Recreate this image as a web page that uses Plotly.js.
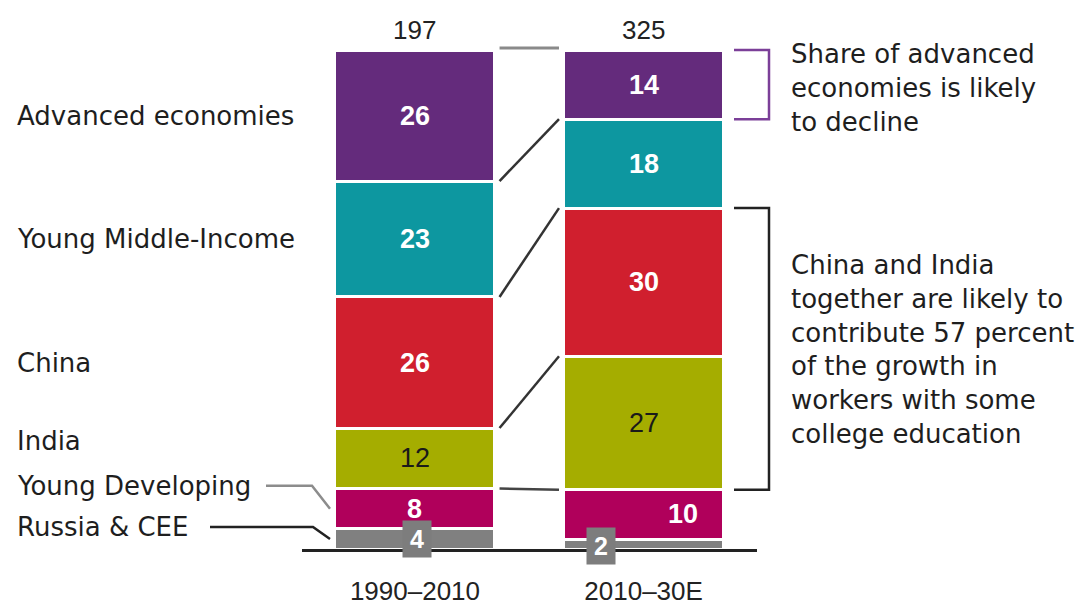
<!DOCTYPE html>
<html>
<head>
<meta charset="utf-8">
<script src="https://cdn.plot.ly/plotly-3.0.1.min.js"></script>
<style>html,body{margin:0;padding:0;background:#fff;}#chart{width:1082px;height:606px;}</style>
</head>
<body>
<div id="chart"></div>
<script>
// ---------- data ----------
const periods = ['1990–2010', '2010–30E'];
const totals = [197, 325];
const regions = ['Russia & CEE', 'Young Developing', 'India', 'China', 'Young Middle-Income', 'Advanced economies'];
const share1990 = [4, 8, 12, 26, 23, 26];
const share2030 = [2, 10, 27, 30, 18, 14];
const noteAdvanced = 'Share of advanced<br>economies is likely<br>to decline';
const noteChinaIndia = 'China and India<br>together are likely to<br>contribute 57 percent<br>of the growth in<br>workers with some<br>college education';

// ---------- styling ----------
const colors = ['#808080', '#B0005B', '#A5AD00', '#D01F2E', '#0D97A0', '#642B7C'];
const textFont = 'DejaVu Sans, Arial, sans-serif';
const numFont = 'Liberation Sans, Arial, sans-serif';
const W = 1082, H = 606;
const M = {l: 302, r: 325, t: 50, b: 57};
const plotW = W - M.l - M.r, plotH = H - M.t - M.b;
const xRange = [-0.494, 1.496];
const barW = 0.70;
const pxToData = 100 / plotH;
const pxX = px => (px - M.l) / plotW;   // page pixel -> paper x

const series = [share1990, share2030];
function bounds(arr) {
  const tot = arr.reduce((a, b) => a + b, 0);
  const out = [0]; let c = 0;
  arr.forEach(v => { c += v; out.push(c / tot * 100); });
  return out;
}
const B = series.map(bounds);

// ---------- traces ----------
const traces = regions.map((r, i) => ({
  type: 'bar', name: r, x: [0, 1], y: [share1990[i], share2030[i]],
  width: barW, marker: {color: colors[i], line: {color: '#ffffff', width: 3}},
  hoverinfo: 'skip', showlegend: false
}));

// ---------- annotations ----------
const ann = [];
// totals
totals.forEach((t, p) => ann.push({x: p, xref: 'x', y: (549 - 30) / plotH, yref: 'paper', yanchor: 'middle',
  text: String(t), showarrow: false, font: {family: numFont, size: 26, color: '#222'}}));
// value labels
const xShift = [[2, 0, 0, 0, 0, 0], [-43, 39, 0, 0, 0, 0]];
const yShift = [[0, 0, 0, 0, 0, 0], [-2, 0, 0, 0, 0, 0]];
series.forEach((arr, p) => arr.forEach((v, i) => {
  const mid = (B[p][i] + B[p][i + 1]) / 2;
  const dark = (i === 2);
  const a = {x: p, xref: 'x', y: mid, yref: 'y', text: String(v), showarrow: false,
    xshift: xShift[p][i], yshift: yShift[p][i],
    font: {family: numFont, size: 27, color: dark ? '#1a1a1a' : '#ffffff', weight: dark ? 'normal' : 'bold'}};
  if (i === 0) { a.bgcolor = '#7d7d7d'; a.width = 26; a.height = 34; a.font.size = 25; }
  ann.push(a);
}));
// left category labels
const labelOffsetPx = [12, 23, 17, 0, 0, 0];
regions.forEach((r, i) => {
  const mid = (B[0][i] + B[0][i + 1]) / 2 + labelOffsetPx[i] * pxToData;
  ann.push({x: pxX(15), xref: 'paper', xanchor: 'left', y: mid, yref: 'y', text: r,
    showarrow: false, font: {family: textFont, size: 26, color: '#1e1e1e'}});
});
// notes
ann.push({x: pxX(789), xref: 'paper', xanchor: 'left', y: (549 - 88) / plotH, yref: 'paper',
  yanchor: 'middle', align: 'left', text: noteAdvanced, showarrow: false,
  font: {family: textFont, size: 26, color: '#1e1e1e'}});
ann.push({x: pxX(789), xref: 'paper', xanchor: 'left', y: (549 - 350) / plotH, yref: 'paper',
  yanchor: 'middle', align: 'left', text: noteChinaIndia, showarrow: false,
  font: {family: textFont, size: 26, color: '#1e1e1e'}});

// ---------- shapes ----------
const shapes = [];
const gx0 = barW / 2 + 0.02, gx1 = 1 - gx0;
// top connector
shapes.push({type: 'line', xref: 'x', yref: 'paper', x0: gx0, x1: gx1, y0: 1.004, y1: 1.004,
  line: {color: '#8a8a8a', width: 3}});
// boundary connectors
[5, 4, 3, 2].forEach(k => {
  shapes.push({type: 'line', xref: 'x', yref: 'paper', x0: gx0, x1: gx1,
    y0: B[0][k] / 100, y1: B[1][k] / 100, line: {color: k === 2 ? '#444' : '#333', width: 2.5}});
});
// leader lines
const yLab = i => ((B[0][i] + B[0][i + 1]) / 2 + labelOffsetPx[i] * pxToData) / 100;
const yMid = i => ((B[0][i] + B[0][i + 1]) / 2) / 100;
shapes.push({type: 'path', xref: 'paper', yref: 'paper',
  path: `M ${pxX(266)} ${yLab(1)} L ${pxX(312)} ${yLab(1)} L ${pxX(330)} ${yMid(1)}`,
  line: {color: '#8c8c8c', width: 2.5}});
shapes.push({type: 'path', xref: 'paper', yref: 'paper',
  path: `M ${pxX(210)} ${yLab(0)} L ${pxX(313)} ${yLab(0)} L ${pxX(330)} ${yMid(0)}`,
  line: {color: '#222', width: 2.5}});
// brackets
function bracket(lo, hi, color) {
  return {type: 'path', xref: 'paper', yref: 'paper',
    path: `M ${pxX(734)} ${hi} L ${pxX(769)} ${hi} L ${pxX(769)} ${lo} L ${pxX(734)} ${lo}`,
    line: {color: color, width: 2.5}};
}
shapes.push(bracket(B[1][5] / 100, B[1][6] / 100, '#7B3F98'));
shapes.push(bracket(B[1][2] / 100, B[1][4] / 100, '#222'));

const layout = {
  width: W, height: H, margin: M, paper_bgcolor: '#fff', plot_bgcolor: '#fff',
  barmode: 'stack', barnorm: 'percent', bargap: 0,
  xaxis: {range: xRange, tickvals: [0, 1], ticktext: periods, showgrid: false, zeroline: false,
    showline: true, linecolor: '#222', linewidth: 3, ticks: '', ticklabelstandoff: 17,
    tickfont: {family: numFont, size: 26, color: '#222'}, fixedrange: true},
  yaxis: {range: [0, 100], visible: false, fixedrange: true},
  annotations: ann, shapes: shapes, showlegend: false
};
Plotly.newPlot('chart', traces, layout, {staticPlot: true});
</script>
</body>
</html>
